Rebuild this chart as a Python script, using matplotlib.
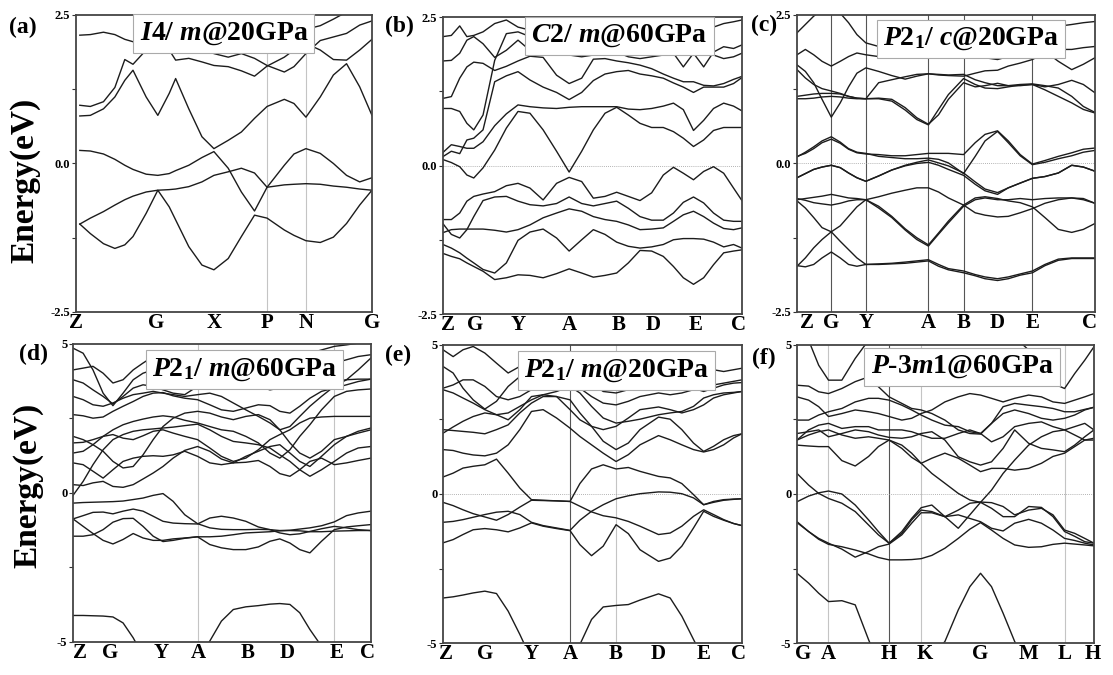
import matplotlib
matplotlib.use("Agg")
import matplotlib.pyplot as plt

plt.rcParams["font.family"] = ["Liberation Serif", "DejaVu Serif"]
plt.rcParams["font.weight"] = "bold"
plt.rcParams["mathtext.fontset"] = "custom"
plt.rcParams["mathtext.rm"] = "Liberation Serif:bold"
plt.rcParams["mathtext.it"] = "Liberation Serif:italic:bold"
plt.rcParams["mathtext.bf"] = "Liberation Serif:bold"

# ---------------------------------------------------
# (a) I4/m @ 20 GPa
# ---------------------------------------------------
a_klabels = ["Z", "G", "X", "P", "N", "G"]
a_kpos = [0.0, 0.267, 0.459, 0.641, 0.774, 1.0]
a_labpos = [-0.013, 0.26, 0.46, 0.64, 0.773, 1.0]
a_k = [0.0, 0.036, 0.081, 0.120, 0.154, 0.182, 0.227, 0.267, 0.306, 0.328, 0.373, 0.418, 0.459,
       0.508, 0.553, 0.598, 0.641, 0.700, 0.733, 0.774, 0.823, 0.868, 0.913, 0.958, 1.0]
a_bands = [
    [-1.02, -1.18, -1.35, -1.43, -1.37, -1.23, -0.84, -0.45, -0.73, -0.95, -1.40, -1.71, -1.79,
     -1.60, -1.23, -0.87, -0.92, -1.12, -1.21, -1.30, -1.33, -1.24, -1.01, -0.70, -0.45],
    [-1.02, -0.92, -0.81, -0.70, -0.61, -0.55, -0.48, -0.45, -0.44, -0.43, -0.39, -0.31, -0.20,
     -0.14, -0.08, -0.16, -0.40, -0.36, -0.35, -0.34, -0.35, -0.38, -0.40, -0.43, -0.45],
    [0.22, 0.21, 0.16, 0.07, -0.03, -0.10, -0.18, -0.20, -0.17, -0.12, -0.03, 0.10, 0.20,
     -0.08, -0.48, -0.80, -0.40, -0.03, 0.16, 0.25, 0.17, 0.00, -0.20, -0.31, -0.24],
    [0.80, 0.81, 0.92, 1.12, 1.40, 1.57, 1.12, 0.81, 1.18, 1.43, 0.92, 0.45, 0.25,
     0.39, 0.53, 0.76, 0.96, 1.08, 1.01, 0.78, 1.12, 1.49, 1.68, 1.29, 0.81],
    [0.98, 0.96, 1.04, 1.28, 1.75, 1.67, 1.91, 2.02, 1.91, 1.74, 1.77, 1.71, 1.65,
     1.63, 1.56, 1.47, 1.64, 1.79, 1.91, 2.02, 1.91, 1.75, 1.74, 1.91, 2.09],
    [2.16, 2.17, 2.21, 2.17, 2.09, 2.05, 1.99, 2.07, 2.13, 2.10, 2.07, 1.96, 1.85,
     1.79, 1.85, 1.77, 1.65, 1.54, 1.63, 1.85, 2.07, 2.13, 2.19, 2.33, 2.40],
    [2.70, 2.70, 2.75, 2.75, 2.70, 2.60, 2.55, 2.60, 2.62, 2.60, 2.55, 2.50, 2.55,
     2.60, 2.58, 2.55, 2.50, 2.45, 2.37, 2.26, 2.32, 2.43, 2.55, 2.65, 2.70],
]

# ---------------------------------------------------
# (b) C2/m @ 60 GPa
# ---------------------------------------------------
b_klabels = ["Z", "G", "Y", "A", "B", "D", "E", "C"]
b_labpos = [0.017, 0.106, 0.251, 0.422, 0.587, 0.704, 0.844, 0.99]
b_k = [0.0, 0.028, 0.056, 0.080, 0.103, 0.134, 0.173, 0.212, 0.251, 0.291, 0.335, 0.380, 0.422,
       0.464, 0.503, 0.542, 0.581, 0.620, 0.659, 0.698, 0.737, 0.771, 0.804, 0.838, 0.872, 0.905,
       0.939, 0.972, 1.0]
b_bands = [
    [-1.48, -1.53, -1.57, -1.64, -1.70, -1.78, -1.92, -1.89, -1.84, -1.85, -1.89, -1.82, -1.74, -1.81, -1.88,
     -1.85, -1.81, -1.64, -1.43, -1.44, -1.53, -1.70, -1.89, -2.00, -1.89, -1.67, -1.47, -1.44, -1.42],
    [-1.33, -1.39, -1.47, -1.56, -1.64, -1.75, -1.81, -1.64, -1.26, -1.12, -1.07, -1.22, -1.44, -1.25, -1.08,
     -1.16, -1.29, -1.36, -1.39, -1.37, -1.33, -1.25, -1.23, -1.23, -1.24, -1.29, -1.37, -1.33, -1.39],
    [-1.13, -1.08, -1.07, -1.07, -1.07, -1.07, -1.09, -1.12, -1.08, -1.00, -0.88, -0.80, -0.73, -0.77, -0.86,
     -0.91, -0.94, -1.00, -1.08, -1.07, -1.05, -0.94, -0.83, -0.77, -0.86, -0.97, -1.06, -1.08, -1.05],
    [-0.98, -1.16, -1.22, -1.08, -0.86, -0.59, -0.53, -0.52, -0.60, -0.66, -0.68, -0.64, -0.53, -0.64, -0.68,
     -0.64, -0.60, -0.72, -0.86, -0.92, -0.92, -0.80, -0.62, -0.53, -0.63, -0.80, -0.92, -0.94, -0.94],
    [-0.91, -0.91, -0.80, -0.60, -0.52, -0.48, -0.44, -0.34, -0.30, -0.38, -0.58, -0.30, -0.20, -0.27, -0.55,
     -0.52, -0.45, -0.52, -0.59, -0.46, -0.16, -0.03, -0.13, -0.24, -0.10, -0.02, -0.13, -0.38, -0.59],
    [0.10, 0.05, -0.02, -0.16, -0.21, -0.04, 0.26, 0.63, 0.91, 0.88, 0.60, 0.24, -0.11, 0.24, 0.60,
     0.88, 0.98, 0.85, 0.71, 0.64, 0.64, 0.57, 0.46, 0.32, 0.43, 0.59, 0.64, 0.64, 0.64],
    [0.22, 0.35, 0.32, 0.29, 0.29, 0.40, 0.67, 0.87, 1.02, 0.99, 0.97, 0.96, 0.98, 0.99, 0.99,
     0.99, 0.99, 0.95, 0.94, 0.96, 1.00, 1.05, 0.94, 0.59, 0.76, 0.96, 1.05, 1.00, 0.92],
    [0.15, 0.24, 0.20, 0.43, 0.46, 0.60, 1.41, 1.51, 1.58, 1.44, 1.32, 1.23, 1.11, 1.23, 1.43,
     1.54, 1.58, 1.60, 1.54, 1.51, 1.47, 1.39, 1.32, 1.23, 1.32, 1.32, 1.32, 1.38, 1.48],
    [0.96, 0.96, 0.91, 0.71, 0.60, 0.85, 1.77, 2.22, 2.25, 2.17, 2.05, 1.94, 1.86, 1.83, 1.86,
     1.89, 1.91, 1.83, 1.80, 1.83, 1.86, 1.89, 1.94, 2.00, 1.94, 1.86, 1.80, 1.83, 1.89],
    [1.13, 1.16, 1.47, 1.66, 1.74, 1.72, 1.60, 1.67, 1.76, 1.84, 1.82, 1.52, 1.38, 1.47, 1.79,
     1.80, 1.76, 1.73, 1.69, 1.63, 1.54, 1.47, 1.41, 1.41, 1.35, 1.34, 1.38, 1.45, 1.50],
    [1.76, 1.77, 1.89, 2.11, 2.17, 2.05, 1.82, 1.94, 2.11, 1.94, 1.94, 2.05, 2.00, 2.00, 2.05,
     2.00, 1.89, 1.94, 2.00, 1.94, 1.89, 1.89, 1.66, 1.89, 1.66, 1.91, 2.00, 1.97, 2.03],
    [2.17, 2.19, 2.35, 2.17, 2.19, 2.25, 2.39, 2.45, 2.33, 2.28, 2.31, 2.33, 2.31, 2.28, 2.33,
     2.36, 2.31, 2.25, 2.28, 2.31, 2.33, 2.36, 2.28, 2.22, 2.28, 2.33, 2.39, 2.42, 2.45],
]

# ---------------------------------------------------
# (c) P2_1/c @ 20 GPa
# ---------------------------------------------------
c_klabels = ["Z", "G", "Y", "A", "B", "D", "E", "C"]
c_kpos = [0.0, 0.115, 0.231, 0.441, 0.559, 0.673, 0.790, 1.0]
c_labpos = [0.034, 0.115, 0.231, 0.441, 0.559, 0.673, 0.790, 0.983]
c_k = [0.0, 0.028, 0.056, 0.084, 0.115, 0.145, 0.173, 0.201, 0.231, 0.274, 0.318, 0.363, 0.402,
       0.441, 0.475, 0.508, 0.559, 0.598, 0.631, 0.673, 0.709, 0.749, 0.790, 0.832, 0.877, 0.922,
       0.961, 1.0]
c_bands = [
    [-1.72, -1.74, -1.70, -1.59, -1.49, -1.59, -1.70, -1.73, -1.70, -1.69, -1.68, -1.66, -1.64, -1.62,
     -1.70, -1.77, -1.81, -1.87, -1.91, -1.94, -1.91, -1.86, -1.81, -1.70, -1.61, -1.59, -1.59, -1.59],
    [-1.73, -1.59, -1.42, -1.28, -1.15, -1.31, -1.45, -1.59, -1.70, -1.70, -1.69, -1.68, -1.66, -1.64,
     -1.73, -1.79, -1.84, -1.89, -1.94, -1.97, -1.94, -1.88, -1.84, -1.72, -1.63, -1.60, -1.60, -1.60],
    [-0.63, -0.75, -0.91, -1.08, -1.15, -1.05, -0.89, -0.73, -0.61, -0.72, -0.89, -1.10, -1.25, -1.37,
     -1.17, -0.97, -0.70, -0.58, -0.56, -0.59, -0.63, -0.66, -0.73, -0.91, -1.11, -1.16, -1.11, -1.01],
    [-0.61, -0.59, -0.57, -0.55, -0.52, -0.55, -0.58, -0.59, -0.61, -0.56, -0.50, -0.45, -0.41, -0.41,
     -0.48, -0.58, -0.70, -0.83, -0.87, -0.90, -0.89, -0.83, -0.76, -0.67, -0.61, -0.58, -0.59, -0.67],
    [-0.59, -0.62, -0.66, -0.68, -0.70, -0.67, -0.63, -0.61, -0.61, -0.75, -0.91, -1.12, -1.28, -1.39,
     -1.19, -1.00, -0.72, -0.61, -0.58, -0.61, -0.61, -0.59, -0.61, -0.59, -0.58, -0.58, -0.61, -0.67],
    [-0.24, -0.17, -0.10, -0.06, -0.03, -0.07, -0.16, -0.24, -0.30, -0.21, -0.11, -0.03, 0.02, 0.06,
     0.01, -0.04, -0.16, -0.31, -0.43, -0.49, -0.41, -0.33, -0.25, -0.22, -0.16, -0.03, -0.06, -0.13],
    [-0.24, -0.17, -0.10, -0.06, -0.03, -0.07, -0.16, -0.24, -0.30, -0.21, -0.11, -0.04, 0.00, 0.02,
     -0.03, -0.10, -0.20, -0.35, -0.46, -0.52, -0.41, -0.33, -0.25, -0.22, -0.16, -0.03, -0.06, -0.13],
    [0.12, 0.17, 0.25, 0.35, 0.41, 0.34, 0.24, 0.18, 0.16, 0.15, 0.13, 0.13, 0.15, 0.17,
     0.17, 0.17, 0.15, 0.35, 0.49, 0.55, 0.38, 0.15, -0.01, 0.05, 0.12, 0.18, 0.24, 0.26],
    [0.11, 0.19, 0.28, 0.38, 0.45, 0.36, 0.25, 0.19, 0.17, 0.12, 0.10, 0.08, 0.08, 0.09,
     0.07, 0.01, -0.17, 0.12, 0.38, 0.54, 0.35, 0.13, -0.02, 0.02, 0.08, 0.13, 0.19, 0.22],
    [1.09, 1.09, 1.10, 1.12, 1.13, 1.12, 1.10, 1.09, 1.09, 1.10, 1.08, 0.94, 0.77, 0.66,
     0.82, 1.08, 1.36, 1.29, 1.31, 1.35, 1.31, 1.31, 1.33, 1.24, 1.13, 1.02, 0.91, 0.85],
    [1.13, 1.15, 1.17, 1.18, 1.18, 1.17, 1.13, 1.10, 1.09, 1.09, 1.05, 0.90, 0.74, 0.65,
     0.91, 1.16, 1.43, 1.33, 1.27, 1.26, 1.29, 1.32, 1.33, 1.29, 1.33, 1.40, 1.33, 1.19],
    [1.66, 1.55, 1.36, 1.08, 0.78, 1.02, 1.29, 1.52, 1.61, 1.55, 1.48, 1.42, 1.47, 1.51,
     1.49, 1.48, 1.47, 1.52, 1.56, 1.57, 1.64, 1.69, 1.75, 1.86, 1.92, 1.92, 1.95, 1.97],
    [1.58, 1.44, 1.33, 1.26, 1.22, 1.18, 1.13, 1.10, 1.09, 1.36, 1.41, 1.46, 1.50, 1.51,
     1.50, 1.49, 1.50, 1.41, 1.36, 1.31, 1.31, 1.33, 1.34, 1.31, 1.27, 1.13, 0.96, 0.86],
    [1.83, 1.92, 1.83, 1.72, 1.64, 1.72, 1.80, 1.86, 1.83, 1.80, 1.86, 1.89, 1.92, 1.93,
     1.92, 1.91, 1.86, 1.83, 1.78, 1.75, 1.80, 1.86, 1.97, 1.89, 1.72, 1.58, 1.67, 1.78],
    [2.20, 2.34, 2.48, 2.59, 2.65, 2.53, 2.37, 2.17, 2.03, 1.97, 2.03, 2.03, 2.06, 2.08,
     2.11, 2.14, 2.17, 2.20, 2.20, 2.20, 2.21, 2.22, 2.23, 2.26, 2.31, 2.34, 2.37, 2.39],
]

# ---------------------------------------------------
# (d) P2_1/m @ 60 GPa
# ---------------------------------------------------
d_klabels = ["Z", "G", "Y", "A", "B", "D", "E", "C"]
d_labpos = [0.022, 0.123, 0.297, 0.42, 0.585, 0.719, 0.885, 0.988]
d_k = [0.0, 0.034, 0.067, 0.101, 0.134, 0.168, 0.202, 0.235, 0.269, 0.302, 0.336, 0.375, 0.418,
       0.459, 0.498, 0.538, 0.580, 0.622, 0.661, 0.694, 0.728, 0.761, 0.795, 0.834, 0.877, 0.918,
       0.957, 1.0]
d_bands = [
    [-4.11, -4.11, -4.12, -4.13, -4.16, -4.36, -4.86, -5.47, -5.92, -6.15, -6.15, -5.92, -5.53, -4.97,
     -4.30, -3.91, -3.82, -3.78, -3.73, -3.71, -3.74, -4.02, -4.58, -5.14, -5.70, -6.15, -6.37, -6.48],
    [-0.34, -0.32, -0.31, -0.30, -0.29, -0.27, -0.22, -0.17, -0.08, -0.02, -0.28, -0.73, -1.03, -1.17,
     -1.22, -1.23, -1.23, -1.22, -1.23, -1.26, -1.25, -1.21, -1.17, -1.10, -0.97, -0.76, -0.67, -0.61],
    [-0.87, -0.76, -0.65, -0.64, -0.70, -0.61, -0.54, -0.61, -0.78, -0.95, -1.01, -1.03, -1.04, -0.84,
     -0.78, -0.84, -0.95, -1.14, -1.23, -1.34, -1.40, -1.37, -1.29, -1.20, -1.12, -1.17, -1.23, -1.26],
    [-0.87, -1.12, -1.36, -1.59, -1.71, -1.56, -1.36, -1.51, -1.59, -1.59, -1.54, -1.51, -1.47, -1.47,
     -1.45, -1.40, -1.34, -1.32, -1.30, -1.27, -1.26, -1.27, -1.30, -1.30, -1.28, -1.27, -1.26, -1.26],
    [-1.45, -1.45, -1.40, -1.23, -0.98, -0.86, -0.85, -1.12, -1.45, -1.63, -1.59, -1.52, -1.47, -1.73,
     -1.84, -1.90, -1.90, -1.81, -1.62, -1.54, -1.68, -1.90, -2.01, -1.62, -1.23, -1.14, -1.10, -1.06],
    [0.28, 0.25, 0.34, 0.39, 0.22, 0.19, 0.28, 0.47, 0.67, 0.89, 1.17, 1.43, 1.56, 1.40,
     1.14, 1.01, 1.03, 1.09, 0.89, 0.65, 0.56, 0.78, 1.06, 1.17, 0.95, 1.01, 1.09, 1.17],
    [-0.08, 0.39, 0.95, 1.45, 1.79, 1.96, 2.07, 2.12, 2.15, 2.18, 2.21, 2.26, 2.31, 2.12,
     1.90, 1.73, 1.68, 1.62, 1.51, 1.28, 1.06, 0.78, 0.56, 0.78, 1.06, 1.34, 1.51, 1.56],
    [1.01, 0.95, 0.73, 0.50, 0.78, 1.06, 1.17, 1.23, 1.25, 1.23, 1.28, 1.40, 1.23, 1.01,
     0.95, 1.01, 1.23, 1.40, 1.56, 1.62, 1.34, 1.06, 0.89, 1.23, 1.62, 1.90, 2.07, 2.18],
    [1.34, 1.40, 1.62, 1.90, 1.96, 1.84, 1.79, 1.92, 2.07, 2.12, 2.01, 1.90, 1.79, 1.51,
     1.23, 1.06, 1.17, 1.45, 1.79, 1.96, 2.12, 2.35, 2.51, 2.55, 2.57, 2.57, 2.57, 2.57],
    [1.68, 1.70, 1.79, 1.90, 2.12, 2.29, 2.40, 2.48, 2.55, 2.59, 2.55, 2.44, 2.35, 2.23,
     2.12, 2.07, 1.90, 1.68, 1.34, 1.17, 1.45, 1.90, 2.29, 2.79, 3.24, 3.41, 3.46, 3.49],
    [1.90, 1.79, 1.62, 1.40, 1.06, 0.84, 0.89, 1.28, 1.79, 2.23, 2.51, 2.68, 2.74, 2.68,
     2.55, 2.46, 2.57, 2.63, 2.46, 2.12, 1.68, 1.34, 1.17, 1.40, 1.79, 1.90, 2.01, 2.12],
    [2.63, 2.59, 2.51, 2.55, 2.74, 2.91, 3.07, 3.24, 3.35, 3.37, 3.26, 3.18, 3.13, 2.96,
     2.79, 2.74, 2.85, 2.96, 2.93, 2.74, 2.68, 2.91, 3.18, 3.41, 3.52, 3.63, 3.74, 3.82],
    [3.24, 3.13, 2.96, 2.91, 3.02, 3.18, 3.30, 3.35, 3.41, 3.35, 3.30, 3.24, 3.30, 3.35,
     3.24, 3.02, 2.79, 2.57, 2.35, 2.12, 2.23, 2.57, 2.91, 3.24, 3.58, 3.80, 4.13, 4.53],
    [4.86, 4.69, 4.13, 3.35, 2.93, 3.35, 3.80, 4.02, 4.13, 4.25, 4.30, 4.25, 4.13, 4.02,
     3.91, 3.80, 3.69, 3.58, 3.46, 3.52, 3.69, 3.91, 4.13, 4.25, 4.36, 4.47, 4.58, 4.64],
    [3.80, 3.69, 3.46, 3.24, 2.99, 3.24, 3.52, 3.63, 3.58, 3.46, 3.35, 3.30, 3.58, 3.69,
     3.80, 3.91, 4.02, 4.13, 4.25, 4.36, 4.47, 4.58, 4.69, 4.80, 4.92, 4.97, 5.03, 5.03],
    [4.13, 4.19, 4.25, 4.02, 3.69, 3.80, 4.13, 4.36, 4.58, 4.69, 4.64, 4.53, 4.41, 4.30,
     4.25, 4.19, 4.08, 3.91, 3.80, 3.85, 3.97, 4.02, 3.91, 3.80, 3.74, 3.80, 3.82, 3.82],
]

# ---------------------------------------------------
# (e) P2_1/m @ 20 GPa
# ---------------------------------------------------
e_klabels = ["Z", "G", "Y", "A", "B", "D", "E", "C"]
e_labpos = [0.011, 0.140, 0.296, 0.425, 0.579, 0.721, 0.872, 0.99]
e_k = [0.0, 0.034, 0.067, 0.101, 0.140, 0.179, 0.218, 0.257, 0.296, 0.335, 0.380, 0.425, 0.458,
       0.497, 0.536, 0.579, 0.620, 0.659, 0.721, 0.760, 0.799, 0.838, 0.872, 0.905, 0.939, 0.972, 1.0]
e_bands = [
    [-3.49, -3.45, -3.39, -3.32, -3.26, -3.34, -3.93, -4.71, -5.55, -6.11, -6.11, -5.66, -5.05, -4.21,
     -3.79, -3.74, -3.71, -3.56, -3.35, -3.49, -4.10, -4.88, -5.55, -6.00, -6.34, -6.56, -6.67],
    [-0.28, -0.39, -0.53, -0.66, -0.77, -0.88, -0.69, -0.44, -0.21, -0.22, -0.23, -0.25, -0.41, -0.60,
     -0.73, -0.80, -0.92, -1.08, -1.36, -1.31, -1.08, -0.75, -0.53, -0.69, -0.86, -0.99, -1.06],
    [-0.95, -0.92, -0.86, -0.78, -0.69, -0.61, -0.58, -0.69, -0.95, -1.06, -1.14, -1.22, -0.88, -0.58,
     -0.36, -0.16, -0.06, 0.01, 0.07, 0.06, 0.01, -0.13, -0.36, -0.25, -0.19, -0.17, -0.16],
    [-1.64, -1.53, -1.36, -1.20, -1.16, -1.20, -1.27, -1.14, -0.97, -1.08, -1.16, -1.23, -1.70, -2.07,
     -1.75, -1.03, -1.33, -1.87, -2.26, -2.15, -1.75, -1.14, -0.58, -0.75, -0.88, -0.99, -1.06],
    [0.57, 0.70, 0.87, 0.93, 0.98, 1.17, 0.70, 0.20, -0.19, -0.21, -0.23, -0.25, 0.35, 0.84,
     0.98, 0.84, 0.89, 0.76, 0.59, 0.54, 0.35, -0.02, -0.36, -0.28, -0.21, -0.18, -0.16],
    [1.49, 1.46, 1.37, 1.31, 1.28, 1.37, 1.65, 2.16, 2.77, 2.83, 2.55, 2.21, 1.93, 1.65,
     1.37, 1.09, 1.32, 1.65, 1.96, 1.82, 1.65, 1.49, 1.41, 1.49, 1.65, 1.88, 2.02],
    [2.16, 2.13, 2.10, 2.07, 2.02, 2.16, 2.32, 2.72, 3.05, 3.27, 3.27, 3.16, 2.72, 2.27,
     1.77, 1.49, 1.71, 2.16, 2.58, 2.51, 2.16, 1.71, 1.43, 1.60, 1.82, 1.96, 2.02],
    [2.04, 2.25, 2.44, 2.60, 2.72, 2.66, 2.49, 2.83, 3.27, 3.33, 3.27, 2.83, 2.49, 2.27,
     2.16, 2.27, 2.55, 2.83, 2.92, 2.83, 2.72, 2.83, 2.99, 3.22, 3.33, 3.39, 3.44],
    [3.50, 3.39, 3.22, 3.05, 2.83, 2.66, 2.72, 2.94, 3.16, 3.33, 3.44, 3.61, 3.39, 2.94,
     2.55, 2.38, 2.44, 2.51, 2.66, 2.72, 2.77, 2.94, 3.22, 3.33, 3.39, 3.41, 3.44],
    [4.28, 4.06, 3.55, 3.16, 2.85, 3.11, 3.61, 3.94, 4.17, 4.28, 4.28, 4.22, 4.06, 3.72,
     3.44, 3.39, 3.50, 3.55, 3.50, 3.61, 3.72, 3.55, 3.44, 3.55, 3.66, 3.72, 3.74],
    [3.55, 3.66, 3.83, 3.83, 3.61, 3.27, 3.16, 3.27, 3.50, 3.61, 3.66, 3.72, 3.55, 3.27,
     3.05, 2.99, 3.11, 3.27, 3.39, 3.33, 3.39, 3.50, 3.61, 3.66, 3.72, 3.78, 3.83],
    [4.84, 4.61, 4.84, 4.95, 4.73, 4.39, 4.06, 4.28, 4.50, 4.61, 4.67, 4.73, 4.61, 4.50,
     4.39, 4.28, 4.34, 4.45, 4.50, 4.56, 4.50, 4.39, 4.28, 4.17, 4.11, 4.17, 4.22],
]

# ---------------------------------------------------
# (f) P-3m1 @ 60 GPa
# ---------------------------------------------------
f_klabels = ["G", "A", "H", "K", "G", "M", "L", "H"]
f_labpos = [0.022, 0.106, 0.310, 0.431, 0.618, 0.780, 0.901, 0.997]
f_k = [0.0, 0.039, 0.073, 0.106, 0.151, 0.196, 0.241, 0.274, 0.310, 0.353, 0.386, 0.418, 0.454,
       0.498, 0.543, 0.582, 0.618, 0.655, 0.694, 0.733, 0.780, 0.823, 0.862, 0.901, 0.935, 0.969, 1.0]
f_bands = [
    [-2.66, -2.99, -3.33, -3.61, -3.58, -3.72, -4.89, -5.68, -6.23, -6.57, -6.35, -5.90, -5.45, -4.95,
     -3.89, -3.11, -2.66, -3.11, -4.00, -4.95, -5.79, -6.35, -6.68, -6.79, -6.79, -6.79, -6.79],
    [-0.26, -0.07, 0.04, 0.10, 0.00, -0.37, -0.87, -1.26, -1.65, -1.32, -0.87, -0.54, -0.59, -0.76,
     -0.54, -0.31, -0.27, -0.29, -0.42, -0.70, -0.54, -0.48, -0.70, -1.21, -1.32, -1.49, -1.65],
    [-0.93, -1.26, -1.49, -1.65, -1.85, -2.12, -1.93, -1.77, -1.68, -1.37, -0.98, -0.63, -0.63, -0.76,
     -0.70, -0.82, -0.93, -1.15, -1.24, -0.98, -0.85, -0.98, -1.21, -1.49, -1.56, -1.65, -1.71],
    [-0.96, -1.26, -1.52, -1.69, -1.77, -1.88, -2.01, -2.13, -2.21, -2.21, -2.20, -2.17, -2.06, -1.82,
     -1.49, -1.18, -0.96, -1.21, -1.49, -1.71, -1.79, -1.77, -1.69, -1.65, -1.68, -1.71, -1.74],
    [0.69, 0.30, 0.02, -0.15, -0.31, -0.59, -1.04, -1.37, -1.65, -1.26, -0.82, -0.46, -0.37, -0.76,
     -1.15, -0.70, -0.28, -0.48, -0.76, -0.76, -0.42, -0.45, -0.76, -1.26, -1.42, -1.60, -1.65],
    [1.81, 1.98, 2.09, 2.15, 1.98, 1.87, 1.92, 1.87, 1.81, 1.53, 1.23, 1.03, 0.69, 0.36,
     0.02, -0.20, -0.28, 0.13, 0.69, 1.14, 1.64, 1.92, 2.09, 2.15, 1.98, 1.81, 1.81],
    [1.64, 1.61, 1.59, 1.59, 1.12, 0.94, 1.26, 1.59, 1.81, 1.64, 1.37, 1.03, 1.20, 1.37,
     1.20, 0.97, 0.75, 0.86, 0.86, 0.80, 0.86, 1.03, 1.26, 1.37, 1.59, 1.81, 1.87],
    [2.03, 2.09, 2.15, 1.92, 2.03, 2.15, 2.09, 1.98, 1.90, 1.87, 1.92, 2.03, 2.09, 1.81,
     1.25, 1.08, 0.97, 1.08, 1.53, 2.15, 1.70, 1.53, 1.48, 1.42, 1.64, 1.92, 2.15],
    [1.81, 2.15, 2.31, 2.37, 2.20, 2.26, 2.26, 2.15, 2.15, 2.15, 2.09, 1.98, 1.87, 1.87,
     2.03, 2.15, 2.03, 1.75, 1.92, 2.26, 2.37, 2.42, 2.26, 2.15, 2.26, 2.37, 2.15],
    [2.48, 2.48, 2.65, 2.76, 2.87, 3.09, 3.21, 3.21, 3.15, 2.98, 2.82, 2.65, 2.48, 2.31,
     2.26, 2.09, 2.03, 2.37, 2.70, 2.82, 2.70, 2.54, 2.48, 2.54, 2.65, 2.82, 2.91],
    [3.65, 3.62, 3.43, 3.37, 3.54, 3.77, 3.93, 3.60, 3.26, 3.04, 2.87, 2.82, 2.70, 2.48,
     2.15, 2.03, 2.01, 2.37, 2.93, 3.04, 2.98, 2.93, 2.87, 2.76, 2.76, 2.84, 2.91],
    [5.50, 5.16, 4.32, 3.82, 3.82, 4.55, 5.16, 5.39, 5.50, 5.50, 5.50, 5.50, 5.50, 5.50,
     5.50, 5.50, 5.50, 5.50, 5.50, 5.27, 4.83, 4.27, 3.71, 3.54, 4.04, 4.49, 4.94],
    [3.26, 3.15, 2.93, 2.60, 2.70, 2.82, 2.76, 2.70, 2.60, 2.48, 2.54, 2.70, 2.82, 3.09,
     3.26, 3.37, 3.32, 3.21, 3.09, 3.21, 3.32, 3.26, 3.09, 3.04, 3.15, 3.26, 3.37],
]

# ---------------------------------------------------
# Panel layout
# ---------------------------------------------------
LIGHT = "#c4c4c4"
DARK = "#555555"

panels = [
    dict(tag="(a)", title=r"$I$4/ $m$@20GPa", k=a_k, bands=a_bands, labpos=a_labpos, klab=a_klabels,
         rect=[0.0683, 0.5378, 0.2659, 0.440], lim=2.5, fermi=False,
         vlines=[(a_kpos[3], LIGHT), (a_kpos[4], LIGHT)], tpos=(0.50, 0.938), lpos=(23, 27)),
    dict(tag="(b)", title=r"$C$2/ $m$@60GPa", k=b_k, bands=b_bands, labpos=b_labpos, klab=b_klabels,
         rect=[0.3980, 0.5348, 0.2686, 0.440], lim=2.5, fermi=True,
         vlines=[], tpos=(0.59, 0.936), lpos=(399, 26)),
    dict(tag="(c)", title=r"$P2_1$/ $c$@20GPa", k=c_k, bands=c_bands, labpos=c_labpos, klab=c_klabels,
         rect=[0.7161, 0.5378, 0.2677, 0.440], lim=2.5, fermi=True,
         vlines=[(c_kpos[i], DARK) for i in (1, 2, 3, 4, 6)],
         tpos=(0.584, 0.919), lpos=(764, 25)),
    dict(tag="(d)", title=r"$P2_1$/ $m$@60GPa", k=d_k, bands=d_bands, labpos=d_labpos, klab=d_klabels,
         rect=[0.0656, 0.0489, 0.2677, 0.4415], lim=5, fermi=False,
         vlines=[(0.418, LIGHT), (0.877, LIGHT)], tpos=(0.575, 0.915), lpos=(33, 354)),
    dict(tag="(e)", title=r"$P2_1$/ $m$@20GPa", k=e_k, bands=e_bands, labpos=e_labpos, klab=e_klabels,
         rect=[0.3980, 0.0474, 0.2686, 0.4415], lim=5, fermi=True,
         vlines=[(0.425, DARK), (0.579, LIGHT)], tpos=(0.58, 0.915), lpos=(398, 355)),
    dict(tag="(f)", title=r"$P$-3$m$1@60GPa", k=f_k, bands=f_bands, labpos=f_labpos, klab=f_klabels,
         rect=[0.7161, 0.0474, 0.2668, 0.4415], lim=5, fermi=True,
         vlines=[(0.106, LIGHT), (0.310, DARK), (0.418, LIGHT), (0.901, LIGHT)],
         tpos=(0.556, 0.926), lpos=(764, 358)),
]

W, H = 1113, 675
fig = plt.figure(figsize=(W / 100, H / 100), dpi=100)

for p in panels:
    ax = fig.add_axes(p["rect"])
    for xv, col in p["vlines"]:
        ax.axvline(xv, color=col, lw=0.8, zorder=1)
    if p["fermi"]:
        ax.axhline(0, color="#9a9a9a", lw=0.6, ls=(0, (1, 1.5)), zorder=1)
    for band in p["bands"]:
        n = min(len(band), len(p["k"]))
        ax.plot(p["k"][:n], band[:n], color="#1c1c1c", lw=1.0, solid_joinstyle="round", zorder=2)

    lim = p["lim"]
    ax.set_xlim(0, 1)
    ax.set_ylim(-lim, lim)
    ax.set_xticks(p["labpos"])
    ax.set_xticklabels(p["klab"], fontsize=15, fontweight="bold")
    ax.tick_params(axis="x", length=0, pad=1)
    ax.set_yticks([-lim, -lim / 2, 0, lim / 2, lim])
    if lim == 2.5:
        ylab = ["-2.5", "", "0.0", "", "2.5"]
    else:
        ylab = ["-5", "", "0", "", "5"]
    ax.set_yticklabels(ylab, fontsize=9, fontweight="bold")
    ax.tick_params(axis="y", direction="out", length=3, width=0.8, pad=1, colors="#333333",
                   labelcolor="black")
    for s in ax.spines.values():
        s.set_color("#444444")
        s.set_linewidth(1.3)

    ax.text(p["tpos"][0], p["tpos"][1], p["title"], transform=ax.transAxes, ha="center", va="center",
            fontsize=20, fontweight="bold", zorder=6,
            bbox=dict(boxstyle="square,pad=0.22", fc="white", ec="#aaaaaa", lw=0.8))
    fig.text(p["lpos"][0] / W, 1 - p["lpos"][1] / H, p["tag"], ha="center", va="center",
             fontsize=17, fontweight="bold")

fig.text(25 / W, 1 - 180 / H, "Energy(eV)", rotation=90, ha="center", va="center",
         fontsize=24, fontweight="bold")
fig.text(28 / W, 1 - 485 / H, "Energy(eV)", rotation=90, ha="center", va="center",
         fontsize=24, fontweight="bold")

fig.savefig("out.png", dpi=100)
